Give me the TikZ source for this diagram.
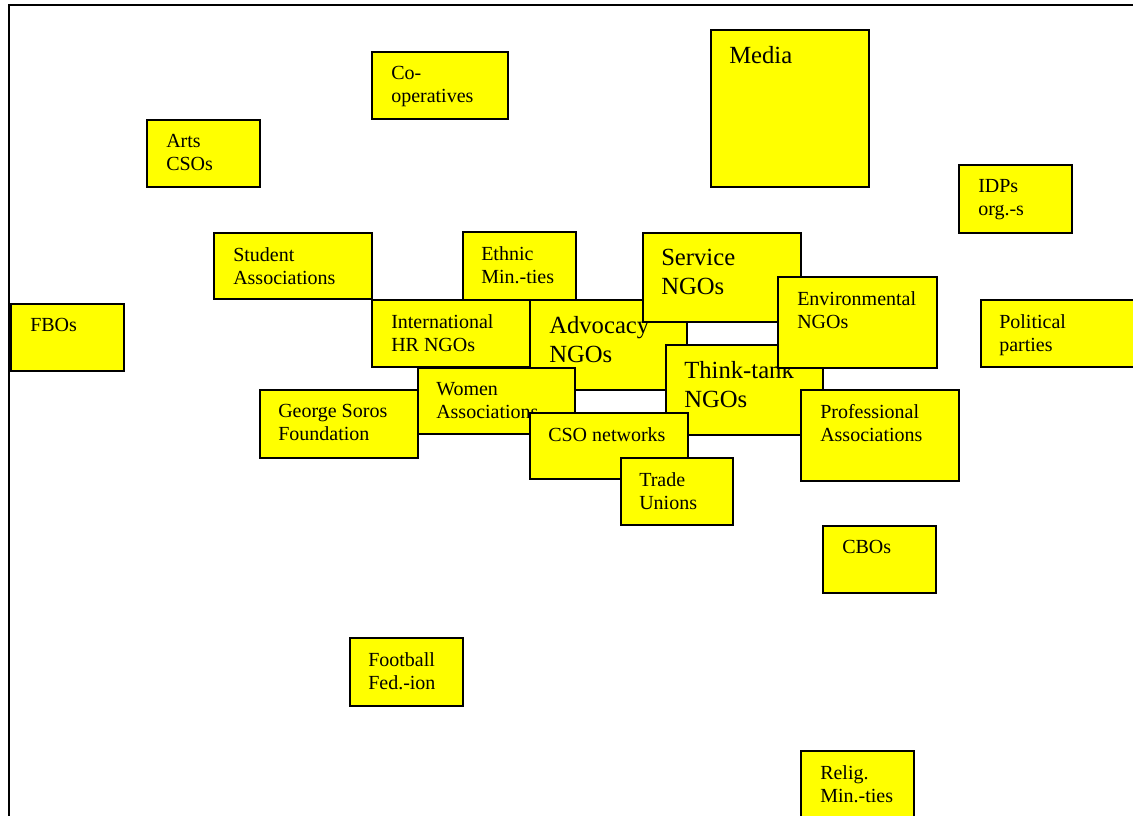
\documentclass[tikz,border=0pt]{standalone}
\usepackage{fontspec}
\setmainfont{Liberation Serif}
\definecolor{orgyellow}{RGB}{255,255,0}
\begin{document}
\begin{tikzpicture}
        [x=0.75pt, y=-0.75pt,
        orgbox/.style 2 args={rectangle, draw=black, line width=1.4pt, fill=orgyellow, anchor=north west, inner sep=0pt, minimum width=#1*0.75pt, minimum height=#2*0.75pt},
        orglabel/.style={anchor=north west, inner sep=0pt, align=left, font={\fontsize{15}{17.25}\selectfont}},
        biglabel/.style={anchor=north west, inner sep=0pt, align=left, font={\fontsize{18.5}{21.75}\selectfont}}]
        \clip (0,0) rectangle (1133,815);
        % frame
        \draw[line width=1.6pt] (8,5) -- (1134,5);
        \draw[line width=1.6pt] (9,4) -- (9,816);

        \node[orgbox={136}{67}] (coop) at (371,51) {};
        \node[orglabel] (coopT) at ([shift={(20,15)}]coop.north west) {Co-\\operatives};
        \node[orgbox={113}{67}] (arts) at (146,119) {};
        \node[orglabel] (artsT) at ([shift={(20,15)}]arts.north west) {Arts\\CSOs};
        \node[orgbox={158}{157}] (media) at (710,29) {};
        \node[biglabel] (mediaT) at ([shift={(19,17)}]media.north west) {Media};
        \node[orgbox={113}{68}] (idps) at (958,164) {};
        \node[orglabel] (idpsT) at ([shift={(20,15)}]idps.north west) {IDPs\\org.-s};
        \node[orgbox={158}{66}] (stud) at (213,232) {};
        \node[orglabel] (studT) at ([shift={(20,15)}]stud.north west) {Student\\Associations};
        \node[orgbox={113}{68}] (ethn) at (462,231) {};
        \node[orglabel] (ethnT) at ([shift={(19,15)}]ethn.north west) {Ethnic\\Min.-ties};
        \node[orgbox={113}{67}] (fbos) at (10,303) {};
        \node[orglabel] (fbosT) at ([shift={(20,15)}]fbos.north west) {FBOs};
        \node[orgbox={160}{67}] (poli) at (980,299) {};
        \node[orglabel] (poliT) at ([shift={(19,15)}]poli.north west) {Political\\parties};
        \node[orgbox={158}{67}] (inthr) at (371,299) {};
        \node[orglabel] (inthrT) at ([shift={(20,15)}]inthr.north west) {International\\HR NGOs};
        \node[orgbox={157}{90}] (advo) at (529,299) {};
        \node[biglabel] (advoT) at ([shift={(20,17)}]advo.north west) {Advocacy\\NGOs};
        \node[orgbox={158}{89}] (serv) at (642,232) {};
        \node[biglabel] (servT) at ([shift={(19,17)}]serv.north west) {Service\\NGOs};
        \node[orgbox={157}{90}] (think) at (665,344) {};
        \node[biglabel] (thinkT) at ([shift={(19,17)}]think.north west) {Think-tank\\NGOs};
        \node[orgbox={159}{91}] (env) at (777,276) {};
        \node[orglabel] (envT) at ([shift={(20,15)}]env.north west) {Environmental\\NGOs};
        \node[orgbox={157}{66}] (women) at (417,367) {};
        \node[orglabel] (womenT) at ([shift={(19,15)}]women.north west) {Women\\Associations};
        \node[orgbox={158}{68}] (soros) at (259,389) {};
        \node[orglabel] (sorosT) at ([shift={(19,15)}]soros.north west) {George Soros\\Foundation};
        \node[orgbox={158}{66}] (cso) at (529,412) {};
        \node[orglabel] (csoT) at ([shift={(19,15)}]cso.north west) {CSO networks};
        \node[orgbox={158}{91}] (prof) at (800,389) {};
        \node[orglabel] (profT) at ([shift={(20,15)}]prof.north west) {Professional\\Associations};
        \node[orgbox={112}{67}] (trade) at (620,457) {};
        \node[orglabel] (tradeT) at ([shift={(19,15)}]trade.north west) {Trade\\Unions};
        \node[orgbox={113}{67}] (cbo) at (822,525) {};
        \node[orglabel] (cboT) at ([shift={(20,15)}]cbo.north west) {CBOs};
        \node[orgbox={113}{68}] (foot) at (349,637) {};
        \node[orglabel] (footT) at ([shift={(19,15)}]foot.north west) {Football\\Fed.-ion};
        \node[orgbox={113}{80}] (relig) at (800,750) {};
        \node[orglabel] (religT) at ([shift={(20,15)}]relig.north west) {Relig.\\Min.-ties};
    \end{tikzpicture}
\end{document}
